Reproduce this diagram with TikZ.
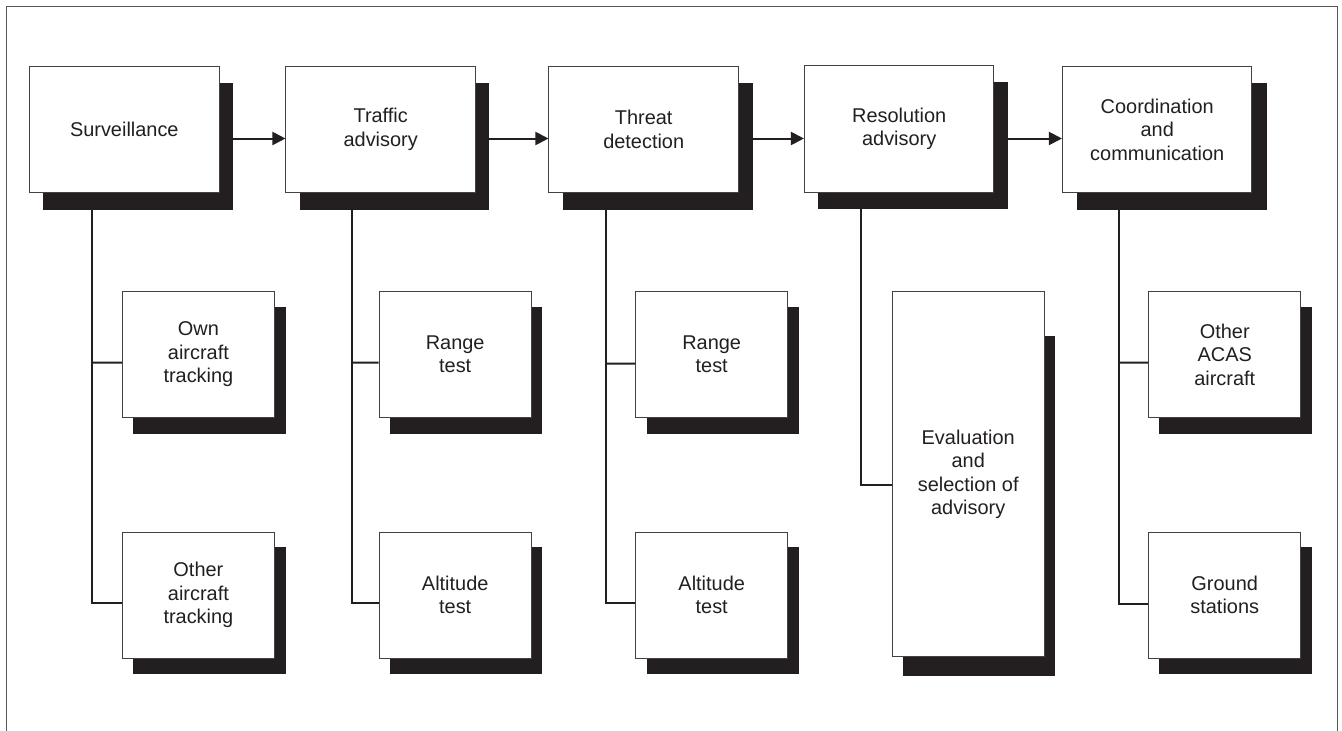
\documentclass[tikz,border=0pt]{standalone}
\usepackage{fontspec}
\setmainfont{Liberation Sans}
\usetikzlibrary{arrows.meta}
\definecolor{ink}{HTML}{231F20}
\tikzset{
  box/.style={draw=ink!85, line width=1bp, fill=white, align=center, inner sep=0pt,
    font=\fontsize{20}{23.5}\selectfont, text=ink},
  topbox/.style={box, minimum width=189.5bp, minimum height=126bp},
  subbox/.style={box, minimum width=152bp, minimum height=126bp},
  shade/.style={fill=ink},
  conn/.style={draw=ink, line width=2bp},
  arr/.style={conn, -{Triangle[length=13bp,width=13bp]}},
  frame/.style={draw=ink!75, line width=1.5bp}
}
\begin{document}
\begin{tikzpicture}[x=1bp, y=-1bp]
\useasboundingbox (0,0) rectangle (1342,730);
\draw[frame] (6.7,735) -- (6.7,6.7) -- (1337.7,6.7) -- (1337.7,735);

% shadows
\fill[shade] (43,83) rectangle (233,209.5);
\fill[shade] (300,83) rectangle (489.3,209.5);
\fill[shade] (563.3,83) rectangle (752.7,209.5);
\fill[shade] (818.3,82) rectangle (1008.3,209);
\fill[shade] (1076.7,83) rectangle (1266.7,209.5);

\fill[shade] (133.3,306.7) rectangle (286,434);
\fill[shade] (133.3,547.3) rectangle (286,674.3);
\fill[shade] (390,306.7) rectangle (542.3,434);
\fill[shade] (390,547.3) rectangle (542.3,674.3);
\fill[shade] (646.7,306.7) rectangle (799,434);
\fill[shade] (646.7,547.3) rectangle (799,674.3);
\fill[shade] (902.7,336) rectangle (1055.3,675.7);
\fill[shade] (1159.3,306.7) rectangle (1312.3,434);
\fill[shade] (1159.3,547.3) rectangle (1312.3,674.3);

% top row
\node[topbox] (S)  at (124.3,129.5) {Surveillance};
\node[topbox] (TA) at (380.7,129.5) {Traffic\\advisory};
\node[topbox] (TD) at (643.7,129.5) {Threat\\detection};
\node[topbox] (RA) at (899.2,129.0) {Resolution\\advisory};
\node[topbox] (CC) at (1157.2,129.5) {Coordination\\and\\communication};

% second row
\node[subbox] (OWN) at (198.4,354.5) {Own\\aircraft\\tracking};
\node[subbox] (OTH) at (198.4,595) {Other\\aircraft\\tracking};
\node[subbox] (RT1) at (455.2,354.5) {Range\\test};
\node[subbox] (AT1) at (455.2,595) {Altitude\\test};
\node[subbox] (RT2) at (711.7,354.5) {Range\\test};
\node[subbox] (AT2) at (711.7,595) {Altitude\\test};
\node[subbox, minimum height=365bp] (EVA) at (968.2,474.2) {Evaluation\\and\\selection of\\advisory};
\node[subbox] (ACAS) at (1224.7,354.5) {Other\\ACAS\\aircraft};
\node[subbox] (GND) at (1224.7,595) {Ground\\stations};

% arrows along the top row
\draw[arr] (233,138.5) -- (TA.west |- 0,138.5);
\draw[arr] (489.3,138.5) -- (TD.west |- 0,138.5);
\draw[arr] (752.7,138.5) -- (RA.west |- 0,138.5);
\draw[arr] (1008.3,138.5) -- (CC.west |- 0,138.5);

% trunks
\coordinate (tS) at (92.3,209.5);
\coordinate (tTA) at (351.7,209.5);
\coordinate (tTD) at (605.5,209.5);
\coordinate (tRA) at (860.7,209);
\coordinate (tCC) at (1119,209.5);

\draw[conn] (tS) |- ([yshift=-8bp]OTH.west);
\draw[conn] (tS |- OWN.west) ++(0,8) -- ([yshift=-8bp]OWN.west);
\draw[conn] (tTA) |- ([yshift=-8bp]AT1.west);
\draw[conn] (tTA |- RT1.west) ++(0,8) -- ([yshift=-8bp]RT1.west);
\draw[conn] (tTD) |- ([yshift=-8bp]AT2.west);
\draw[conn] (tTD |- RT2.west) ++(0,9) -- ([yshift=-9bp]RT2.west);
\draw[conn] (tRA) |- ([yshift=-10.5bp]EVA.west);
\draw[conn] (tCC) |- ([yshift=-9bp]GND.west);
\draw[conn] (tCC |- ACAS.west) ++(0,8) -- ([yshift=-8bp]ACAS.west);
\end{tikzpicture}
\end{document}
